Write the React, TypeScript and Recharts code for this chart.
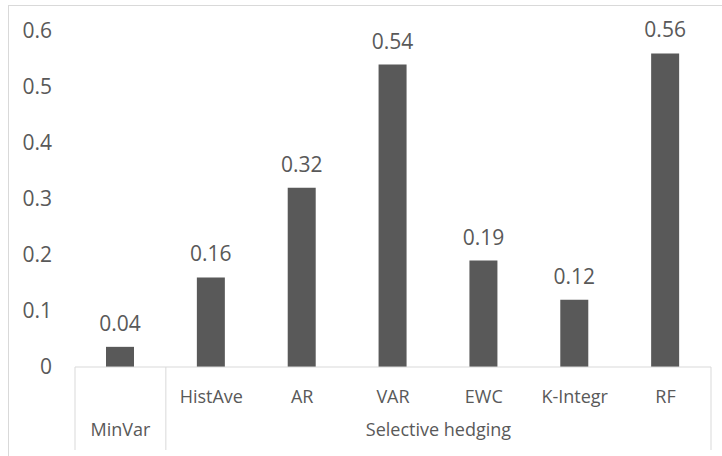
import React from 'react';
import { BarChart, Bar, XAxis, YAxis, LabelList } from 'recharts';

const categories = ['MinVar', 'HistAve', 'AR', 'VAR', 'EWC', 'K-Integr', 'RF'];
const values = [0.036, 0.16, 0.32, 0.54, 0.19, 0.12, 0.56];
const groupNames = ['MinVar', 'Selective hedging'];
const groupSizes = [1, 6];
const yTicks = [0, 0.1, 0.2, 0.3, 0.4, 0.5, 0.6];

const chartData = categories.map((name, i) => ({ name, value: values[i] }));

const TEXT = '#595959';
const LINE = '#d9d9d9';
const FONT = '"Open Sans", sans-serif';

// group starts, by category index
const groupStart: Record<number, number> = {};
{
  let idx = 0;
  groupSizes.forEach((n, g) => {
    groupStart[idx] = g;
    idx += n;
  });
}

const CategoryTick = (props: any) => {
  const { x, y, payload } = props;
  const half = payload.offset || 0;
  const i = payload.index;
  const top = y - 8;
  const lineEnd = top + 83;
  const parts: React.ReactNode[] = [];
  const g = groupStart[i];
  const inGroupOfOne = g !== undefined && groupSizes[g] === 1;

  if (!inGroupOfOne) {
    parts.push(
      <text key="t" x={x} y={top + 36} textAnchor="middle" fill={TEXT} fontSize={18} fontFamily={FONT}>
        {payload.value}
      </text>
    );
  }
  if (g !== undefined) {
    const left = x - half;
    parts.push(<line key="l" x1={left} x2={left} y1={top} y2={lineEnd} stroke={LINE} />);
    parts.push(
      <text key="g" x={left + groupSizes[g] * half} y={top + 69} textAnchor="middle" fill={TEXT} fontSize={18} fontFamily={FONT}>
        {groupNames[g]}
      </text>
    );
  }
  if (i === categories.length - 1) {
    parts.push(<line key="r" x1={x + half} x2={x + half} y1={top} y2={lineEnd} stroke={LINE} />);
  }
  return <g>{parts}</g>;
};

export default function App() {
  return (
    <div style={{ position: 'absolute', left: 0, top: 0, width: 722, height: 456, overflow: 'hidden', background: '#fff' }}>
      <div style={{ position: 'absolute', left: 8, top: 5, width: 760, height: 500, border: `1px solid ${LINE}` }} />
      <div style={{ position: 'absolute', left: 0, top: 0 }}>
        <BarChart width={722} height={456} data={chartData} margin={{ top: 31, right: 11, bottom: 0, left: 0 }}>
          <XAxis
            dataKey="name"
            height={89}
            axisLine={{ stroke: LINE }}
            tickLine={false}
            interval={0}
            tick={<CategoryTick />}
          />
          <YAxis
            width={75}
            domain={[0, 0.6]}
            ticks={yTicks}
            axisLine={false}
            tickLine={false}
            tick={{ fill: TEXT, fontSize: 21, fontFamily: FONT, dx: -15 }}
          />
          <Bar dataKey="value" fill="#595959" barSize={28} isAnimationActive={false}>
            <LabelList
              dataKey="value"
              position="top"
              offset={16}
              formatter={(v: any) => Number(v).toFixed(2)}
              style={{ fill: TEXT, fontSize: 21, fontFamily: FONT }}
            />
          </Bar>
        </BarChart>
      </div>
    </div>
  );
}
